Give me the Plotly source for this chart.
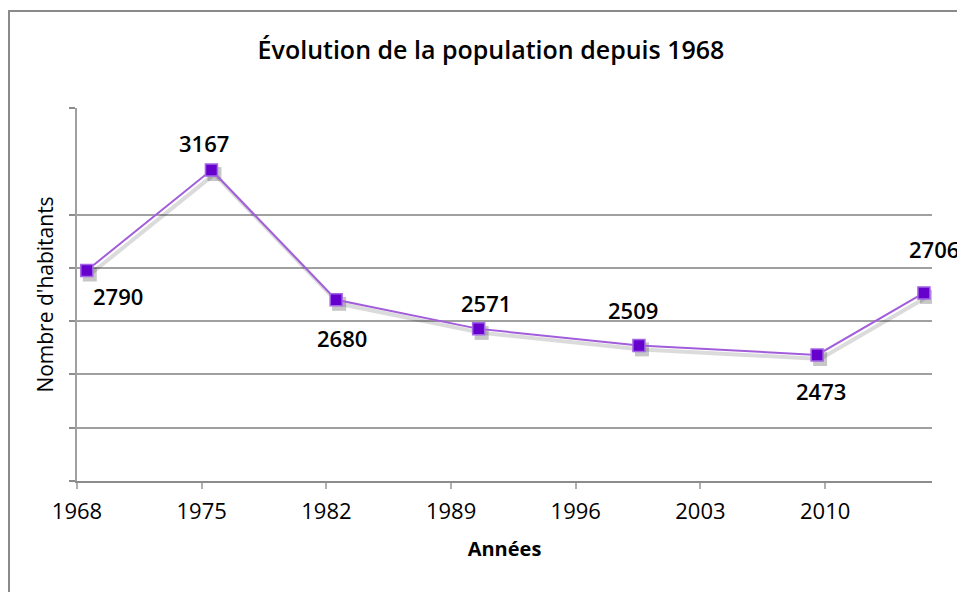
import plotly.graph_objects as go
import pandas as pd

annees = [1968, 1975, 1982, 1990, 1999, 2009, 2015]
habitants = [2790, 3167, 2680, 2571, 2509, 2473, 2706]
y_ticks = [2000, 2200, 2400, 2600, 2800, 3000, 3400]

# manual label placement (pixels: dx right, dy up), as in the original chart
label_offsets = [(31, -25), (-7, 27), (6, -38), (7, 26), (-6, 35), (4, -36), (10, 44)]

# points are plotted mid-year on a date axis
x_dates = [f"{a}-07-20" for a in annees]

FONT = "Open Sans"
purple_line = "#a25ddb"
purple_fill = "#6600cc"

W, H = 957, 592
L, R, T, B = 77, 25, 108, 111
pw, ph = W - L - R, H - T - B

X_RANGE = ["1968-01-01", "2016-01-01"]
Y_RANGE = [2000, 3400]

# drop shadow: same data on an overlaid axis pair whose range is shifted by a few pixels
SH_DX, SH_DY = 3, 4
x0, x1 = pd.Timestamp(X_RANGE[0]), pd.Timestamp(X_RANGE[1])
dt = (x1 - x0) * (SH_DX / pw)
x_range_sh = [str(x0 - dt), str(x1 - dt)]
dy = (Y_RANGE[1] - Y_RANGE[0]) * SH_DY / ph
y_range_sh = [Y_RANGE[0] + dy, Y_RANGE[1] + dy]

fig = go.Figure()
fig.add_trace(go.Scatter(
    x=x_dates, y=habitants, mode="lines+markers", xaxis="x2", yaxis="y2",
    line=dict(color="rgba(0,0,0,0.14)", width=4),
    marker=dict(symbol="square", size=14, color="rgba(0,0,0,0.22)"),
    showlegend=False, hoverinfo="skip",
))
fig.add_trace(go.Scatter(
    x=x_dates, y=habitants, mode="lines+markers", xaxis="x3", yaxis="y3",
    line=dict(color=purple_line, width=2),
    marker=dict(symbol="square", size=12, color=purple_fill,
                line=dict(color="#a466e6", width=1.5)),
    showlegend=False,
))

for xd, v, (dx_, dy_) in zip(x_dates, habitants, label_offsets):
    fig.add_annotation(
        x=xd, y=v, text=str(v), showarrow=False, xref="x", yref="y",
        xshift=dx_, yshift=dy_,
        font=dict(family=FONT, size=22, color="#000000", weight=600),
    )

fig.add_shape(type="rect", xref="paper", yref="paper",
              x0=(9 - L) / pw, x1=(W + 10 - L) / pw,
              y0=-(H + 10 - T - ph) / ph, y1=1 + (T - 11) / ph,
              line=dict(color="#8a8a8a", width=2), layer="below")

hidden = dict(visible=False, showgrid=False, zeroline=False, showline=False)

fig.update_layout(
    width=W, height=H,
    margin=dict(l=L, r=R, t=T, b=B),
    paper_bgcolor="white", plot_bgcolor="white",
    font=dict(family=FONT, color="#000000"),
    title=dict(text="Évolution de la population depuis 1968",
               x=491 / W, xanchor="center", y=1 - 50 / H, yanchor="middle",
               font=dict(family=FONT, size=25, color="#000000", weight=600)),
    xaxis=dict(
        type="date", range=X_RANGE,
        tick0="1968-01-01", dtick="M84", tickformat="%Y",
        showgrid=False, showline=True, linecolor="#8c8c8c", linewidth=2,
        ticks="outside", ticklen=6, tickcolor="#b0b0b0", tickwidth=1.5,
        ticklabelstandoff=4,
        tickfont=dict(family=FONT, size=22, color="#000000"),
        title=dict(text="<b>Années</b>", standoff=18,
                   font=dict(family=FONT, size=20, color="#000000")),
        zeroline=False,
    ),
    yaxis=dict(
        range=Y_RANGE, tickvals=y_ticks, showticklabels=False,
        showgrid=True, gridcolor="#a0a0a0", gridwidth=2,
        showline=True, linecolor="#a0a0a0", linewidth=2,
        ticks="outside", ticklen=6, tickcolor="#8c8c8c", tickwidth=1.5,
        title=dict(text="Nombre d'habitants", standoff=10,
                   font=dict(family=FONT, size=21, color="#000000", weight=500)),
        zeroline=False,
    ),
    xaxis2=dict(type="date", range=x_range_sh, overlaying="x", **hidden),
    yaxis2=dict(range=y_range_sh, overlaying="y", **hidden),
    xaxis3=dict(type="date", range=X_RANGE, overlaying="x", **hidden),
    yaxis3=dict(range=Y_RANGE, overlaying="y", **hidden),
)

fig.write_html(
    "out.html",
    config={"displayModeBar": False},
    post_script="document.body.style.margin='0px';document.body.style.overflow='hidden';",
)
